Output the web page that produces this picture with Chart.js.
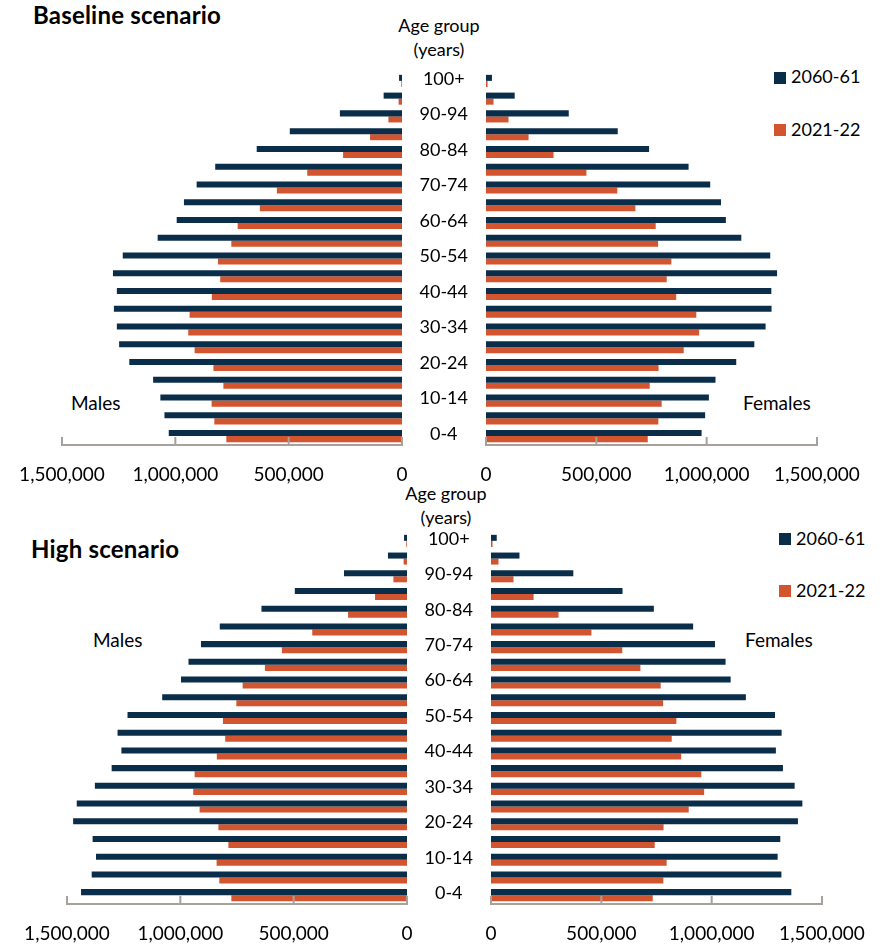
<!DOCTYPE html>
<html>
<head>
<meta charset="utf-8">
<script src="https://cdn.jsdelivr.net/npm/chart.js@4.4.1/dist/chart.umd.min.js"></script>
<style>
  body { margin: 0; background: #fff; font-family: Lato, sans-serif; color: #000; }
  #page { position: relative; width: 887px; height: 944px; overflow: hidden; }
  .box { position: absolute; }
  .txt { position: absolute; font-size: 18px; line-height: 21.6px; white-space: nowrap; }
  .side { font-size: 19px; }
  .title { position: absolute; font-size: 24px; font-weight: bold; letter-spacing: 0.2px; line-height: 28.8px; white-space: nowrap; }
  .head { position: absolute; font-size: 18px; line-height: 24px; text-align: center; width: 120px; }
  .sq { position: absolute; width: 12px; height: 12px; }
</style>
</head>
<body>
<div id="page">
  <div class="title" style="left:33px; top:1px;">Baseline scenario</div>
  <div class="title" style="left:31px; top:535px;">High scenario</div>

  <div class="head" style="left:379px; top:13px;">Age group<br>(years)</div>
  <div class="head" style="left:386px; top:481px;">Age group<br>(years)</div>

  <div class="sq" style="left:774px; top:72px; background:#0a2d49;"></div>
  <div class="txt" style="left:791px; top:66px;">2060-61</div>
  <div class="sq" style="left:774px; top:124px; background:#d3552f;"></div>
  <div class="txt" style="left:791px; top:119px;">2021-22</div>

  <div class="sq" style="left:779px; top:533px; background:#0a2d49;"></div>
  <div class="txt" style="left:796px; top:528px;">2060-61</div>
  <div class="sq" style="left:779px; top:585px; background:#d3552f;"></div>
  <div class="txt" style="left:796px; top:580px;">2021-22</div>

  <div class="txt side" style="left:71px; top:392px;">Males</div>
  <div class="txt side" style="left:743px; top:392px;">Females</div>
  <div class="txt side" style="left:93px; top:629px;">Males</div>
  <div class="txt side" style="left:745px; top:629px;">Females</div>

  <div class="box" style="left:0; top:0;"><canvas id="baseMales" width="422" height="485"></canvas></div>
  <div class="box" style="left:402px; top:0;"><canvas id="baseFemales" width="485" height="485"></canvas></div>
  <div class="box" style="left:0; top:460px;"><canvas id="highMales" width="427" height="484"></canvas></div>
  <div class="box" style="left:407px; top:460px;"><canvas id="highFemales" width="480" height="484"></canvas></div>
</div>
<script>
// Age groups, youngest first
const ageGroups = ['0-4', '5-9', '10-14', '15-19', '20-24', '25-29', '30-34', '35-39', '40-44', '45-49',
  '50-54', '55-59', '60-64', '65-69', '70-74', '75-79', '80-84', '85-89', '90-94', '95-99', '100+'];

// 2021-22 estimates (same in both scenarios)
const males2021 = [775000, 828000, 840000, 788000, 832000, 915000, 943000, 937000, 839000, 802000,
  812000, 753000, 725000, 627000, 552000, 418000, 260000, 141000, 60000, 15000, 3000];
const females2021 = [733000, 781000, 796000, 742000, 782000, 896000, 966000, 953000, 862000, 819000,
  840000, 780000, 769000, 677000, 595000, 455000, 306000, 193000, 102000, 34000, 7000];

// 2060-61 projections, baseline scenario
const baseMales2060 = [1029000, 1048000, 1066000, 1098000, 1203000, 1248000, 1258000, 1271000, 1258000, 1275000,
  1232000, 1078000, 994000, 962000, 906000, 824000, 641000, 495000, 274000, 81000, 13000];
const baseFemales2060 = [977000, 993000, 1010000, 1040000, 1134000, 1216000, 1267000, 1294000, 1293000, 1319000,
  1288000, 1157000, 1087000, 1065000, 1016000, 918000, 739000, 597000, 375000, 130000, 27000];

// 2060-61 projections, high scenario
const highMales2060 = [1438000, 1391000, 1372000, 1387000, 1473000, 1457000, 1377000, 1303000, 1260000, 1277000,
  1233000, 1080000, 997000, 964000, 909000, 826000, 642000, 495000, 278000, 84000, 13000];
const highFemales2060 = [1361000, 1316000, 1299000, 1311000, 1391000, 1411000, 1376000, 1323000, 1291000, 1317000,
  1287000, 1155000, 1086000, 1063000, 1015000, 916000, 738000, 596000, 373000, 129000, 26000];

const NAVY = '#0a2d49';
const ORANGE = '#d3552f';
const AXIS = '#a7a19c';

Chart.defaults.font.family = 'Lato, sans-serif';
Chart.defaults.font.size = 18;
Chart.defaults.color = '#000';

// x axis line with small upward tick marks, drawn over the bars
const axisLine = {
  id: 'axisLine',
  afterDatasetsDraw(chart) {
    const { ctx, chartArea, scales: { x } } = chart;
    const y = chartArea.bottom;
    ctx.save();
    ctx.strokeStyle = AXIS;
    ctx.lineWidth = 2;
    ctx.lineCap = 'square';
    ctx.beginPath();
    ctx.moveTo(x.getPixelForValue(x.min), y);
    ctx.lineTo(x.getPixelForValue(x.max), y);
    x.ticks.forEach(t => {
      const px = x.getPixelForValue(t.value);
      ctx.moveTo(px, y);
      ctx.lineTo(px, y - 7);
    });
    ctx.stroke();
    ctx.restore();
  }
};

function pyramidSide(id, future, current, opts) {
  const left = opts.side === 'left';
  return new Chart(document.getElementById(id), {
    type: 'bar',
    data: {
      labels: ageGroups,
      datasets: [
        { label: '2060-61', data: future, backgroundColor: NAVY },
        { label: '2021-22', data: current, backgroundColor: ORANGE }
      ]
    },
    options: {
      indexAxis: 'y',
      responsive: false,
      animation: false,
      categoryPercentage: 0.68,
      barPercentage: 1.0,
      layout: { padding: opts.padding },
      plugins: { legend: { display: false }, tooltip: { enabled: false } },
      scales: {
        x: {
          min: 0, max: 1500000, reverse: left,
          grid: { display: false, drawTicks: false },
          border: { display: false },
          ticks: {
            stepSize: 500000, padding: 18, maxRotation: 0,
            font: { size: 19 },
            callback: v => v.toLocaleString('en-US')
          },
          afterFit(s) { s.height = 40; s.paddingLeft = 0; s.paddingRight = 0; }
        },
        y: {
          display: !left,
          position: 'left',
          reverse: true,
          grid: { display: false, drawTicks: false },
          border: { display: false },
          ticks: {
            autoSkip: false, crossAlign: 'center', padding: 18, labelOffset: -2,
            callback(v, i) { return i % 2 === 0 ? this.getLabelForValue(v) : ''; }
          },
          afterFit(s) {
            s.paddingTop = 0; s.paddingBottom = 0;
            if (s.options.display) s.width = 84;
          }
        }
      }
    },
    plugins: [axisLine]
  });
}

pyramidSide('baseMales', baseMales2060, males2021, { side: 'left', padding: { left: 62, top: 72, right: 20, bottom: 0 } });
pyramidSide('baseFemales', baseFemales2060, females2021, { side: 'right', padding: { left: 0, top: 72, right: 70, bottom: 0 } });
pyramidSide('highMales', highMales2060, males2021, { side: 'left', padding: { left: 67, top: 72, right: 20, bottom: 0 } });
pyramidSide('highFemales', highFemales2060, females2021, { side: 'right', padding: { left: 0, top: 72, right: 65, bottom: 0 } });
</script>
</body>
</html>
